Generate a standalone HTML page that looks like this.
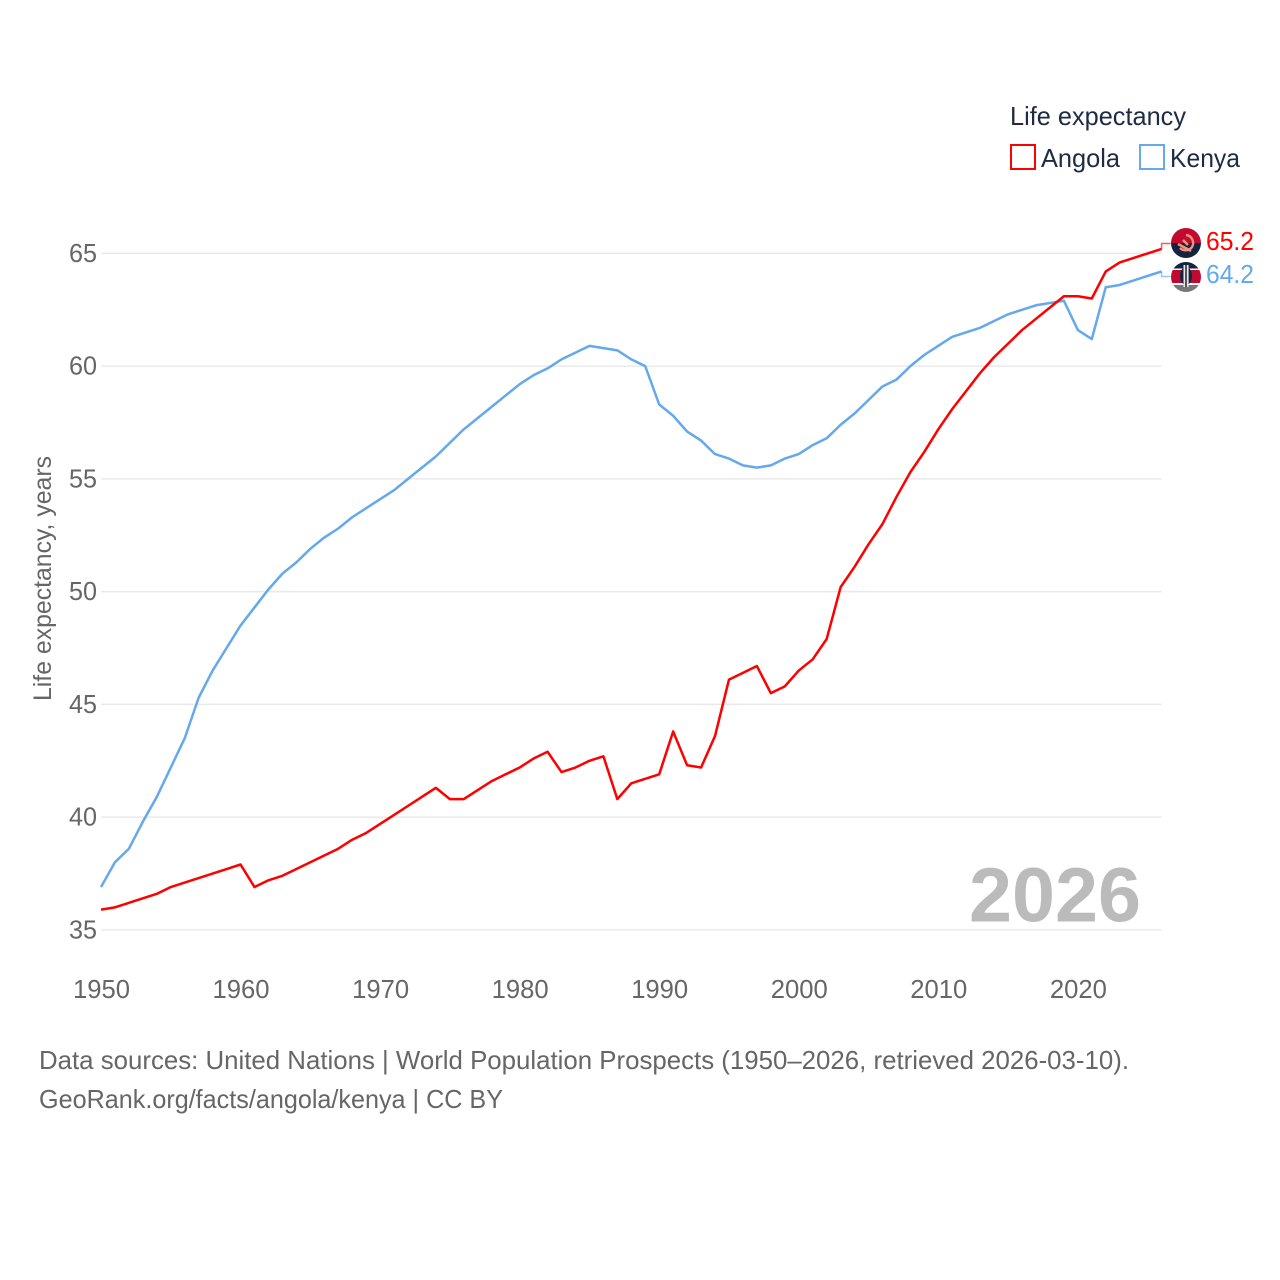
<!DOCTYPE html>
<html>
<head>
<meta charset="utf-8">
<title>Life expectancy: Angola and Kenya</title>
<style>
html,body{margin:0;padding:0;background:#fff;}
svg{display:block;}
text{font-family:"Liberation Sans",sans-serif;}
</style>
</head>
<body>
<svg id="chart" xmlns="http://www.w3.org/2000/svg" width="1280" height="1280" viewBox="0 0 1280 1280">
  <defs>
    <clipPath id="clip-a"><circle cx="1186" cy="243" r="15"/></clipPath>
    <clipPath id="clip-k"><circle cx="1186" cy="277" r="15"/></clipPath>
  </defs>
  <rect width="1280" height="1280" fill="#fff"/>
  <g id="grid"></g>
  <g id="ylabels"></g>
  <g id="xlabels"></g>
  <text transform="translate(51,701) rotate(-90)" font-size="25" fill="#666" textLength="245" lengthAdjust="spacingAndGlyphs">Life expectancy, years</text>

  <text id="year-label" x="969" y="921.5" font-size="77" font-weight="bold" fill="#bbbbbb" textLength="172" lengthAdjust="spacingAndGlyphs">2026</text>

  <g id="series"></g>

  <g clip-path="url(#clip-a)">
    <rect x="1170" y="227" width="32" height="16" fill="#c20a2e"/>
    <rect x="1170" y="243" width="32" height="16" fill="#14233f"/>
    <path d="M1186 235 A8 8 0 0 1 1192 247 A8 8 0 0 1 1180 248" fill="none" stroke="#f09080" stroke-width="2.4"/>
    <path d="M1178 244 L1191 251" fill="none" stroke="#f09080" stroke-width="2.6"/>
    <path d="M1183 240 L1188 245" fill="none" stroke="#f09080" stroke-width="2.6"/>
  </g>
  <g clip-path="url(#clip-k)">
    <rect x="1170" y="261" width="32" height="8" fill="#14233f"/>
    <rect x="1170" y="268.5" width="32" height="1.5" fill="#fff"/>
    <rect x="1170" y="270" width="32" height="13" fill="#c20a30"/>
    <rect x="1170" y="283" width="32" height="2" fill="#fff"/>
    <rect x="1170" y="285" width="32" height="8" fill="#777"/>
    <ellipse cx="1186" cy="276" rx="6" ry="9" fill="#14233f"/>
    <rect x="1183.5" y="265" width="1.6" height="22" fill="#e8e8e8"/>
    <rect x="1187" y="265" width="1.6" height="22" fill="#e8e8e8"/>
    <rect x="1185" y="265" width="2" height="22" fill="#555"/>
  </g>

  <g id="end-labels"></g>

  <g>
    <text x="1010" y="125" font-size="26" fill="#1d2b45" textLength="176" lengthAdjust="spacingAndGlyphs">Life expectancy</text>
    <g>
      <rect x="1011" y="145" width="24" height="24" fill="#fff" stroke="#ff0000" stroke-width="2"/>
      <text x="1041" y="167" font-size="26" fill="#1d2b45" textLength="79" lengthAdjust="spacingAndGlyphs">Angola</text>
    </g>
    <g>
      <rect x="1140" y="145" width="24" height="24" fill="#fff" stroke="#64a8ee" stroke-width="2"/>
      <text x="1170" y="167" font-size="26" fill="#1d2b45" textLength="70" lengthAdjust="spacingAndGlyphs">Kenya</text>
    </g>
  </g>

  <text x="39" y="1069" font-size="26" fill="#666" textLength="1090" lengthAdjust="spacingAndGlyphs">Data sources: United Nations | World Population Prospects (1950–2026, retrieved 2026-03-10).</text>
  <text x="39" y="1108" font-size="26" fill="#666" textLength="464" lengthAdjust="spacingAndGlyphs">GeoRank.org/facts/angola/kenya | CC BY</text>
</svg>
<script>
var startYear = 1950;
var yTicks = [35, 40, 45, 50, 55, 60, 65];
var xTicks = [1950, 1960, 1970, 1980, 1990, 2000, 2010, 2020];
var angola = [35.9,36.0,36.2,36.4,36.6,36.9,37.1,37.3,37.5,37.7,
  37.9,36.9,37.2,37.4,37.7,38.0,38.3,38.6,39.0,39.3,
  39.7,40.1,40.5,40.9,41.3,40.8,40.8,41.2,41.6,41.9,
  42.2,42.6,42.9,42.0,42.2,42.5,42.7,40.8,41.5,41.7,
  41.9,43.8,42.3,42.2,43.6,46.1,46.4,46.7,45.5,45.8,
  46.5,47.0,47.9,50.2,51.1,52.1,53.0,54.2,55.3,56.2,
  57.2,58.1,58.9,59.7,60.4,61.0,61.6,62.1,62.6,63.1,
  63.1,63.0,64.2,64.6,64.8,65.0,65.2];
var kenya = [36.9,38.0,38.6,39.8,40.9,42.2,43.5,45.3,46.5,47.5,
  48.5,49.3,50.1,50.8,51.3,51.9,52.4,52.8,53.3,53.7,
  54.1,54.5,55.0,55.5,56.0,56.6,57.2,57.7,58.2,58.7,
  59.2,59.6,59.9,60.3,60.6,60.9,60.8,60.7,60.3,60.0,
  58.3,57.8,57.1,56.7,56.1,55.9,55.6,55.5,55.6,55.9,
  56.1,56.5,56.8,57.4,57.9,58.5,59.1,59.4,60.0,60.5,
  60.9,61.3,61.5,61.7,62.0,62.3,62.5,62.7,62.8,62.9,
  61.6,61.2,63.5,63.6,63.8,64.0,64.2];

var NS = 'http://www.w3.org/2000/svg';
function xScale(year) { return 101 + (year - 1950) * 13.955; }
function yScale(v) { return 929.9 - (v - 35) * 22.55; }
function make(tag, attrs, parent, content) {
  var el = document.createElementNS(NS, tag);
  for (var k in attrs) el.setAttribute(k, attrs[k]);
  if (content !== undefined) el.textContent = content;
  parent.appendChild(el);
  return el;
}
var grid = document.getElementById('grid');
var yl = document.getElementById('ylabels');
var xl = document.getElementById('xlabels');
var series = document.getElementById('series');
var ends = document.getElementById('end-labels');

yTicks.forEach(function (t) {
  var line = make('line', {x1: 101, x2: 1161.5, y1: yScale(t), y2: yScale(t), stroke: '#e9e9e9', 'stroke-width': 1.5}, grid);
  
  
  var label = make('text', {x: 97, y: yScale(t) + 8.5, 'font-size': 26, fill: '#666', 'text-anchor': 'end', textLength: 28, lengthAdjust: 'spacingAndGlyphs'}, yl, String(t));
  
  
});
xTicks.forEach(function (t) {
  var label = make('text', {x: xScale(t) + 0.5, y: 998, 'font-size': 26, fill: '#666', 'text-anchor': 'middle', textLength: 57, lengthAdjust: 'spacingAndGlyphs'}, xl, String(t));
  
  
});

function drawSeries(values, color, labelY, name) {
  var pts = values.map(function (v, i) { return xScale(startYear + i).toFixed(2) + ',' + yScale(v).toFixed(2); });
  var lastX = xScale(startYear + values.length - 1);
  var lastY = yScale(values[values.length - 1]);
  var conn = make('path', {d: 'M' + lastX + ' ' + lastY + ' V' + labelY + ' H' + (lastX + 9), fill: 'none', stroke: color, 'stroke-width': 1.5, 'stroke-opacity': 0.65}, series);
  
  
  var line = make('polyline', {points: pts.join(' '), fill: 'none', stroke: color, 'stroke-width': 2.5, 'stroke-linejoin': 'round'}, series);
  
  
  var txt = make('text', {x: 1206, y: labelY + 6.5, 'font-size': 26, fill: color, textLength: 48, lengthAdjust: 'spacingAndGlyphs'}, ends, values[values.length - 1].toFixed(1));
  
  
}
drawSeries(kenya, '#64a8ee', 276.5, 'kenya');
drawSeries(angola, '#ff0000', 243.5, 'angola');
</script>
</body>
</html>
